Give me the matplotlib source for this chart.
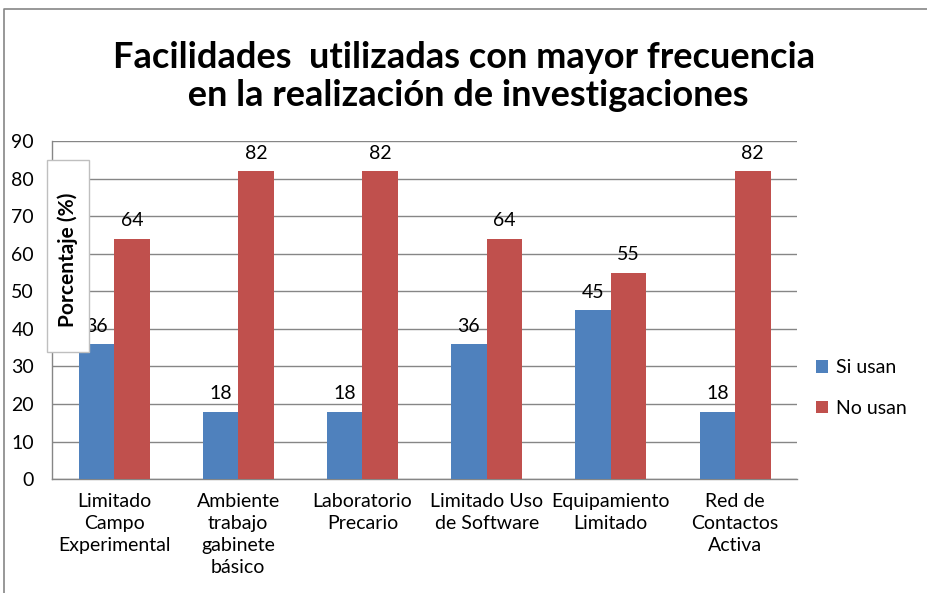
import matplotlib.pyplot as plt
import numpy as np
from matplotlib.patches import Rectangle
from matplotlib.lines import Line2D

plt.rcParams['font.family'] = ['Lato', 'DejaVu Sans']

categorias = ['Limitado\nCampo\nExperimental', 'Ambiente\ntrabajo\ngabinete\nbásico',
              'Laboratorio\nPrecario', 'Limitado Uso\nde Software',
              'Equipamiento\nLimitado', 'Red de\nContactos\nActiva']
si_usan = [36, 18, 18, 36, 45, 18]
no_usan = [64, 82, 82, 64, 55, 82]

fig = plt.figure(figsize=(9.28, 5.93), dpi=100)
ax = fig.add_axes([0.056, 0.192, 0.803, 0.570])

x = np.arange(len(categorias))
ancho = 0.2857
b1 = ax.bar(x - ancho/2, si_usan, ancho, color='#4F81BD', label='Si usan', zorder=3)
b2 = ax.bar(x + ancho/2, no_usan, ancho, color='#C0504D', label='No usan', zorder=3)

for barras in (b1, b2):
    for b in barras:
        ax.text(b.get_x() + b.get_width()/2, b.get_height() + 2.5, '%d' % b.get_height(),
                ha='center', va='bottom', fontsize=14, zorder=4)

ax.set_xlim(-0.5, len(categorias) - 0.5)
ax.set_ylim(0, 90)
ax.set_yticks(range(0, 91, 10))
ax.set_xticks(x)
ax.set_xticklabels(categorias, fontsize=14, linespacing=1.35)
ax.tick_params(axis='y', labelsize=14, length=0, pad=13)
ax.tick_params(axis='x', length=0, pad=10)
ax.grid(axis='y', color='#868686', linewidth=1, zorder=0)
for s in ['top', 'right']:
    ax.spines[s].set_visible(False)
for s in ['left', 'bottom']:
    ax.spines[s].set_color('#868686')
    ax.spines[s].set_linewidth(1)

ax.legend(loc='center left', bbox_to_anchor=(1.002, 0.27), frameon=False,
          fontsize=14, handlelength=0.6, handleheight=0.6, handletextpad=0.4,
          labelspacing=1.2)

fig.text(0.5, 0.871, 'Facilidades  utilizadas con mayor frecuencia\n en la realización de investigaciones',
         ha='center', va='center', fontsize=26, fontweight='bold', linespacing=1.2)

# caja del titulo del eje y, encima del grafico
fig.patches.append(Rectangle((47/928, 1 - 352/593), 42/928, 192/593, transform=fig.transFigure,
                             facecolor='white', edgecolor='#BFBFBF', linewidth=1, zorder=5))
fig.text(68/928, 1 - 259.5/593, 'Porcentaje (%)', rotation=90, ha='center', va='center',
         fontsize=15, fontweight='bold', zorder=6)

# borde del area del grafico
fig.lines.append(Line2D([4/928, 4/928, 1.0], [0, 1 - 9/593, 1 - 9/593], transform=fig.transFigure,
                        color='#868686', linewidth=1.2))

fig.savefig('out.png', dpi=100)
